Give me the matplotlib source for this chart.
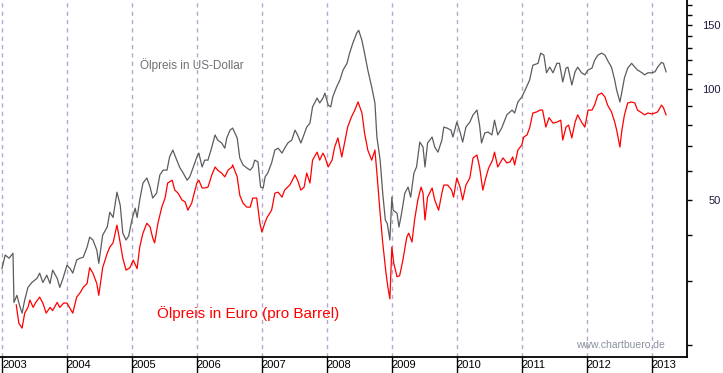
import matplotlib.pyplot as plt
from matplotlib.ticker import FixedLocator, NullFormatter

plt.rcParams['font.family'] = ['Liberation Sans', 'DejaVu Sans']

# Oelpreis in US-Dollar (Zeit in Dezimaljahren)
usd_t = [2003.00, 2003.05, 2003.11, 2003.17, 2003.185, 2003.23, 2003.28, 2003.31, 2003.35, 2003.40,
         2003.46, 2003.54, 2003.58, 2003.63, 2003.69, 2003.74, 2003.78, 2003.85, 2003.89, 2003.94,
         2004.00, 2004.05, 2004.09, 2004.15, 2004.20, 2004.25, 2004.31, 2004.35, 2004.40, 2004.46,
         2004.49, 2004.55, 2004.62, 2004.66, 2004.71, 2004.77, 2004.82, 2004.86, 2004.91, 2004.95,
         2005.00, 2005.05, 2005.08, 2005.12, 2005.17, 2005.23, 2005.28, 2005.32, 2005.38, 2005.43,
         2005.48, 2005.54, 2005.58, 2005.63, 2005.69, 2005.74, 2005.78, 2005.85, 2005.89, 2005.94,
         2006.00, 2006.03, 2006.08, 2006.12, 2006.17, 2006.23, 2006.28, 2006.32, 2006.38, 2006.43,
         2006.46, 2006.51, 2006.55, 2006.62, 2006.66, 2006.71, 2006.77, 2006.82, 2006.86, 2006.89,
         2006.94, 2006.98, 2007.02, 2007.05, 2007.09, 2007.15, 2007.20, 2007.25, 2007.31, 2007.35,
         2007.40, 2007.46, 2007.51, 2007.55, 2007.60, 2007.63, 2007.69, 2007.74, 2007.78, 2007.85,
         2007.89, 2007.94, 2007.97, 2008.02, 2008.06, 2008.09, 2008.15, 2008.20, 2008.25, 2008.31,
         2008.35, 2008.40, 2008.46, 2008.49, 2008.54, 2008.58, 2008.63, 2008.69, 2008.74, 2008.77,
         2008.82, 2008.86, 2008.90, 2008.93, 2008.97, 2009.00, 2009.02, 2009.08, 2009.11, 2009.15,
         2009.20, 2009.25, 2009.29, 2009.34, 2009.38, 2009.43, 2009.48, 2009.51, 2009.55, 2009.62,
         2009.66, 2009.71, 2009.77, 2009.80, 2009.85, 2009.91, 2009.94, 2010.00, 2010.05, 2010.09,
         2010.14, 2010.20, 2010.25, 2010.31, 2010.35, 2010.38, 2010.43, 2010.48, 2010.54, 2010.58,
         2010.63, 2010.69, 2010.77, 2010.85, 2010.89, 2010.94, 2011.00, 2011.05, 2011.12, 2011.17,
         2011.25, 2011.29, 2011.34, 2011.38, 2011.43, 2011.48, 2011.54, 2011.58, 2011.63, 2011.68,
         2011.71, 2011.77, 2011.82, 2011.86, 2011.92, 2011.97, 2012.02, 2012.08, 2012.12, 2012.17,
         2012.23, 2012.28, 2012.32, 2012.38, 2012.43, 2012.46, 2012.51, 2012.54, 2012.58, 2012.63,
         2012.69, 2012.74, 2012.78, 2012.85, 2012.89, 2012.94, 2013.00, 2013.05, 2013.09, 2013.15,
         2013.18, 2013.22]
usd_v = [32.4, 35.3, 34.6, 35.7, 26.2, 27.4, 25.4, 24.5, 26.6, 28.8,
         29.7, 30.5, 31.5, 29.7, 31.1, 29.5, 32.1, 30.5, 28.8, 30.5,
         33.1, 32.4, 31.5, 34.2, 34.6, 34.8, 37.1, 39.5, 38.8, 36.4,
         33.5, 40.0, 42.1, 46.2, 44.7, 52.4, 48.3, 40.5, 38.8, 39.8,
         44.0, 47.4, 44.7, 49.9, 55.5, 57.3, 54.1, 50.5, 52.1, 58.4,
         60.2, 60.2, 65.4, 68.3, 64.1, 61.0, 59.5, 56.5, 57.7, 61.0,
         65.4, 67.0, 61.4, 64.1, 64.1, 69.6, 75.1, 72.7, 71.4, 69.1,
         73.7, 77.4, 78.4, 73.7, 65.0, 62.2, 61.0, 60.2, 61.4, 64.1,
         63.4, 54.1, 53.8, 57.7, 59.1, 63.0, 68.3, 69.1, 67.0, 69.1,
         71.4, 72.7, 77.4, 75.1, 71.4, 73.7, 78.9, 80.9, 89.6, 94.7,
         91.8, 94.7, 97.7, 90.6, 89.6, 95.3, 101.5, 106.0, 113.0, 117.8,
         125.6, 133.8, 142.5, 145.0, 136.0, 125.6, 113.0, 101.5, 91.8, 74.1,
         64.1, 52.0, 44.0, 43.0, 38.8, 50.8, 46.8, 45.9, 42.1, 45.9,
         52.1, 54.1, 50.8, 59.1, 61.4, 71.8, 69.6, 61.4, 71.4, 74.1,
         69.6, 67.4, 72.7, 78.9, 78.4, 77.4, 74.1, 81.4, 76.5, 71.8,
         78.9, 81.4, 85.2, 87.8, 79.9, 71.4, 76.0, 76.5, 75.1, 82.4,
         75.1, 78.4, 85.2, 87.8, 86.2, 92.4, 95.3, 99.5, 106.0, 116.4,
         117.8, 125.6, 124.0, 111.0, 115.0, 111.0, 117.8, 117.8, 104.8, 114.3,
         115.0, 102.8, 111.7, 115.0, 111.0, 109.6, 113.0, 114.3, 120.0, 124.0,
         125.6, 124.0, 120.0, 115.0, 106.0, 99.5, 92.4, 98.3, 107.6, 114.3,
         117.8, 115.0, 113.0, 111.0, 109.6, 111.0, 111.0, 111.7, 115.0, 118.5,
         117.8, 111.7]

# Oelpreis in Euro
eur_t = [2003.22, 2003.26, 2003.31, 2003.35, 2003.40, 2003.43, 2003.48, 2003.52, 2003.58, 2003.63,
         2003.68, 2003.74, 2003.78, 2003.85, 2003.89, 2003.95, 2004.00, 2004.05, 2004.09, 2004.15,
         2004.20, 2004.25, 2004.31, 2004.35, 2004.40, 2004.46, 2004.49, 2004.55, 2004.62, 2004.66,
         2004.71, 2004.77, 2004.82, 2004.86, 2004.91, 2004.97, 2005.02, 2005.08, 2005.12, 2005.17,
         2005.23, 2005.28, 2005.32, 2005.35, 2005.40, 2005.46, 2005.51, 2005.55, 2005.62, 2005.66,
         2005.71, 2005.77, 2005.82, 2005.86, 2005.92, 2005.95, 2006.00, 2006.03, 2006.08, 2006.12,
         2006.17, 2006.23, 2006.28, 2006.32, 2006.38, 2006.43, 2006.48, 2006.54, 2006.55, 2006.62,
         2006.66, 2006.71, 2006.77, 2006.82, 2006.86, 2006.92, 2006.97, 2007.00, 2007.05, 2007.08,
         2007.15, 2007.20, 2007.25, 2007.31, 2007.35, 2007.43, 2007.51, 2007.55, 2007.60, 2007.65,
         2007.69, 2007.74, 2007.78, 2007.85, 2007.89, 2007.94, 2007.97, 2008.02, 2008.08, 2008.12,
         2008.17, 2008.23, 2008.28, 2008.32, 2008.38, 2008.43, 2008.48, 2008.54, 2008.58, 2008.63,
         2008.69, 2008.74, 2008.77, 2008.82, 2008.86, 2008.91, 2008.94, 2008.97, 2009.00, 2009.03,
         2009.08, 2009.12, 2009.17, 2009.23, 2009.26, 2009.31, 2009.35, 2009.40, 2009.45, 2009.48,
         2009.51, 2009.55, 2009.62, 2009.66, 2009.72, 2009.77, 2009.80, 2009.86, 2009.92, 2009.95,
         2010.00, 2010.05, 2010.09, 2010.14, 2010.20, 2010.25, 2010.31, 2010.35, 2010.40, 2010.45,
         2010.49, 2010.55, 2010.58, 2010.63, 2010.71, 2010.77, 2010.82, 2010.86, 2010.89, 2010.94,
         2011.00, 2011.03, 2011.08, 2011.12, 2011.17, 2011.23, 2011.28, 2011.32, 2011.37, 2011.42,
         2011.48, 2011.54, 2011.60, 2011.63, 2011.68, 2011.72, 2011.77, 2011.82, 2011.86, 2011.92,
         2011.97, 2012.02, 2012.08, 2012.12, 2012.17, 2012.23, 2012.28, 2012.32, 2012.38, 2012.43,
         2012.46, 2012.51, 2012.54, 2012.58, 2012.63, 2012.69, 2012.74, 2012.78, 2012.85, 2012.89,
         2012.94, 2013.00, 2013.05, 2013.09, 2013.15, 2013.18, 2013.22]
eur_v = [25.8, 23.0, 22.3, 24.5, 25.4, 26.6, 25.4, 26.2, 27.1, 26.1,
         24.5, 25.4, 24.9, 26.2, 25.4, 26.1, 26.1, 25.2, 24.5, 27.1,
         27.8, 28.8, 29.5, 32.6, 31.5, 29.5, 27.4, 32.6, 35.7, 37.1,
         38.1, 42.6, 38.1, 34.6, 32.1, 32.6, 34.2, 32.4, 37.1, 40.5,
         43.1, 42.1, 39.3, 38.1, 43.1, 47.7, 50.5, 55.5, 56.5, 53.1,
         52.1, 49.9, 49.3, 46.8, 48.9, 51.4, 55.5, 56.5, 53.8, 53.8,
         54.1, 58.4, 61.4, 60.2, 59.1, 57.7, 60.2, 61.4, 62.2, 57.7,
         51.4, 48.9, 47.7, 47.7, 50.5, 50.5, 43.1, 40.8, 43.4, 44.7,
         46.8, 52.1, 52.4, 50.8, 53.1, 54.8, 58.4, 56.5, 53.1, 54.1,
         59.1, 55.5, 64.1, 67.4, 64.1, 67.0, 65.4, 61.4, 64.1, 69.6,
         73.7, 65.4, 72.7, 78.9, 84.2, 87.8, 92.4, 86.2, 76.0, 68.3,
         64.1, 68.3, 59.1, 45.9, 38.1, 31.5, 28.8, 26.8, 37.1, 33.5,
         30.8, 31.0, 34.2, 39.5, 40.5, 38.3, 44.0, 49.9, 54.1, 52.1,
         44.0, 50.8, 53.8, 49.9, 46.8, 52.1, 54.8, 54.8, 53.1, 50.8,
         57.3, 54.1, 49.9, 54.8, 57.3, 65.0, 66.2, 61.4, 53.1, 57.7,
         61.0, 64.1, 67.4, 61.4, 65.0, 63.0, 63.4, 65.4, 62.2, 68.3,
         70.5, 74.1, 75.1, 78.4, 86.2, 86.8, 87.8, 87.8, 78.9, 83.7,
         80.9, 81.4, 82.4, 72.7, 78.9, 79.9, 73.7, 81.4, 85.2, 81.4,
         78.9, 87.8, 87.8, 90.6, 96.5, 97.7, 95.3, 90.6, 86.8, 81.4,
         77.4, 69.6, 77.4, 85.2, 91.8, 92.4, 91.8, 87.8, 86.2, 85.2,
         86.2, 85.7, 86.2, 86.8, 90.6, 89.1, 85.2]

years = list(range(2003, 2014))
y_major = [50, 100, 150]
y_minor = [20, 30, 40, 60, 70, 80, 90, 110, 120, 130, 140, 160, 170]

fig = plt.figure(figsize=(7.23, 3.73), dpi=100)
ax = fig.add_axes([0.0, 0.043, 0.950, 0.957])

for yr in years:
    ax.axvline(yr, color='#b8a6cc', lw=1, ls=(0, (3, 3)), zorder=1)

ax.plot(eur_t, eur_v, color='#ff0000', lw=0.9, zorder=3)
ax.plot(usd_t, usd_v, color='#5c5c5c', lw=0.9, zorder=3)

ax.set_yscale('log')
ax.set_ylim(18.6, 175.4)
ax.set_xlim(2002.97, 2013.54)

ax.yaxis.tick_right()
ax.yaxis.set_major_locator(FixedLocator(y_major))
ax.yaxis.set_minor_locator(FixedLocator(y_minor))
ax.yaxis.set_minor_formatter(NullFormatter())
ax.set_yticklabels([str(v) for v in y_major])
ax.tick_params(axis='y', which='both', direction='out', length=3.5, width=1,
               colors='black', labelsize=8, pad=21, labelcolor='#1a1a3a')
for lab in ax.get_yticklabels():
    lab.set_horizontalalignment('right')

ax.set_xticks(years)
ax.set_xticklabels([str(y) for y in years])
ax.tick_params(axis='x', direction='out', length=11.5, width=1, colors='black',
               labelsize=8, pad=-9.5)
for lab in ax.get_xticklabels():
    lab.set_horizontalalignment('left')

ax.spines['top'].set_visible(False)
ax.spines['left'].set_visible(False)
ax.spines['right'].set_linewidth(1.3)
ax.spines['bottom'].set_linewidth(1.3)

ax.text(0.204, 0.818, 'Ölpreis in US-Dollar', transform=ax.transAxes,
        color='#707070', fontsize=8.5, va='center', ha='left')
ax.text(0.229, 0.123, 'Ölpreis in Euro (pro Barrel)', transform=ax.transAxes,
        color='#ff0000', fontsize=11, va='center', ha='left')
ax.text(0.968, 0.034, 'www.chartbuero.de', transform=ax.transAxes,
        color='#8a90a0', fontsize=7.5, va='center', ha='right')

plt.savefig('out.png', dpi=100)
